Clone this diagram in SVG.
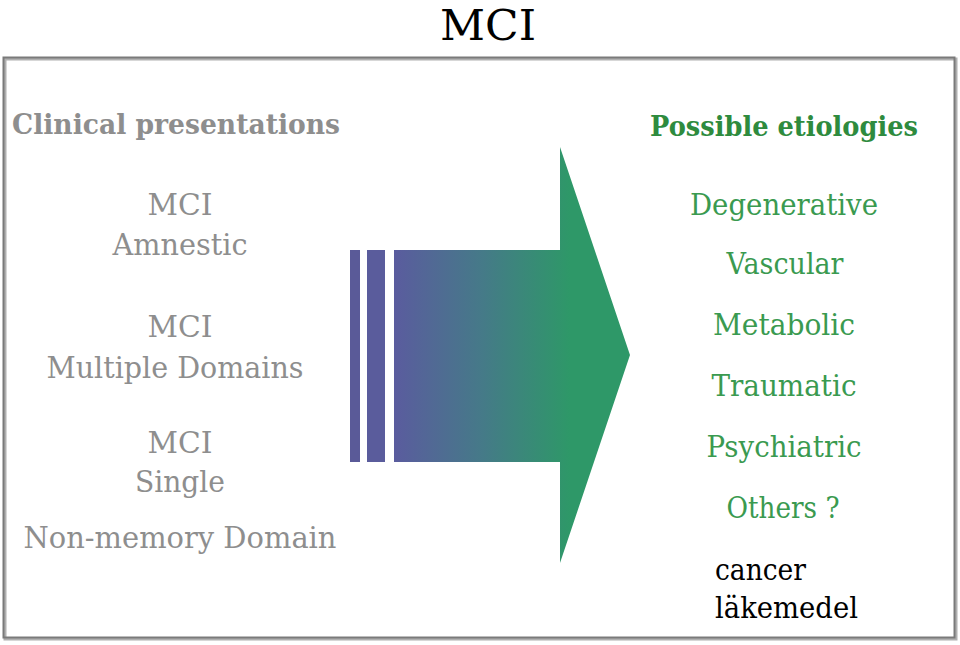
<svg xmlns="http://www.w3.org/2000/svg" width="960" height="645" viewBox="0 0 960 645">
<defs>
<linearGradient id="g" gradientUnits="userSpaceOnUse" x1="395" y1="0" x2="570" y2="0">
<stop offset="0" stop-color="#5a5c9e"/>
<stop offset="0.5" stop-color="#457a88"/>
<stop offset="1" stop-color="#2e9868"/>
</linearGradient>
</defs>
<style>
text{font-family:'DejaVu Serif',serif;text-anchor:middle}
.l{fill:#8e8e8e;font-size:30px}
.r{fill:#3a9a50;font-size:30px}
.h{font-weight:bold;font-size:27px}
.k{fill:#000;font-size:30px;text-anchor:start}
</style>
<rect width="960" height="645" fill="#fff"/>
<g id="frame">
<rect x="5" y="59" width="951" height="580" fill="none" stroke="#b0b0b0" stroke-width="3"/>
<rect x="3.5" y="57.5" width="951" height="580" fill="none" stroke="#7a7a7a" stroke-width="2"/>
</g>
<text id="title" x="488" y="40" font-size="43" fill="#000" textLength="96" lengthAdjust="spacingAndGlyphs">MCI</text>
<g id="left">
<text class="l h" x="176" y="134" textLength="328" lengthAdjust="spacingAndGlyphs">Clinical presentations</text>
<text class="l" x="180" y="215" textLength="65" lengthAdjust="spacingAndGlyphs">MCI</text>
<text class="l" x="180" y="255" textLength="135" lengthAdjust="spacingAndGlyphs">Amnestic</text>
<text class="l" x="180" y="337" textLength="65" lengthAdjust="spacingAndGlyphs">MCI</text>
<text class="l" x="175" y="378" textLength="257" lengthAdjust="spacingAndGlyphs">Multiple Domains</text>
<text class="l" x="180" y="453" textLength="65" lengthAdjust="spacingAndGlyphs">MCI</text>
<text class="l" x="180" y="492" textLength="90" lengthAdjust="spacingAndGlyphs">Single</text>
<text class="l" x="180" y="548" textLength="313" lengthAdjust="spacingAndGlyphs">Non-memory Domain</text>
</g>
<g id="arrow">
<rect x="350" y="250" width="10" height="212" fill="#5a5a98"/>
<rect x="367" y="250" width="18" height="212" fill="#5a5c9c"/>
<polygon points="394,250 560,250 560,147 630,355 560,563 560,462 394,462" fill="url(#g)"/>
</g>
<g id="right">
<text class="r h" x="784" y="136" style="fill:#2e8b3e" textLength="268" lengthAdjust="spacingAndGlyphs">Possible etiologies</text>
<text class="r" x="784" y="215" textLength="188" lengthAdjust="spacingAndGlyphs">Degenerative</text>
<text class="r" x="785" y="274" textLength="117" lengthAdjust="spacingAndGlyphs">Vascular</text>
<text class="r" x="784" y="335" textLength="142" lengthAdjust="spacingAndGlyphs">Metabolic</text>
<text class="r" x="784" y="396" textLength="145" lengthAdjust="spacingAndGlyphs">Traumatic</text>
<text class="r" x="784" y="457" textLength="155" lengthAdjust="spacingAndGlyphs">Psychiatric</text>
<text class="r" x="783" y="518" textLength="113" lengthAdjust="spacingAndGlyphs">Others ?</text>
<text class="k" x="715" y="580" textLength="91" lengthAdjust="spacingAndGlyphs">cancer</text>
<text class="k" x="715" y="618" textLength="143" lengthAdjust="spacingAndGlyphs">läkemedel</text>
</g>
</svg>
